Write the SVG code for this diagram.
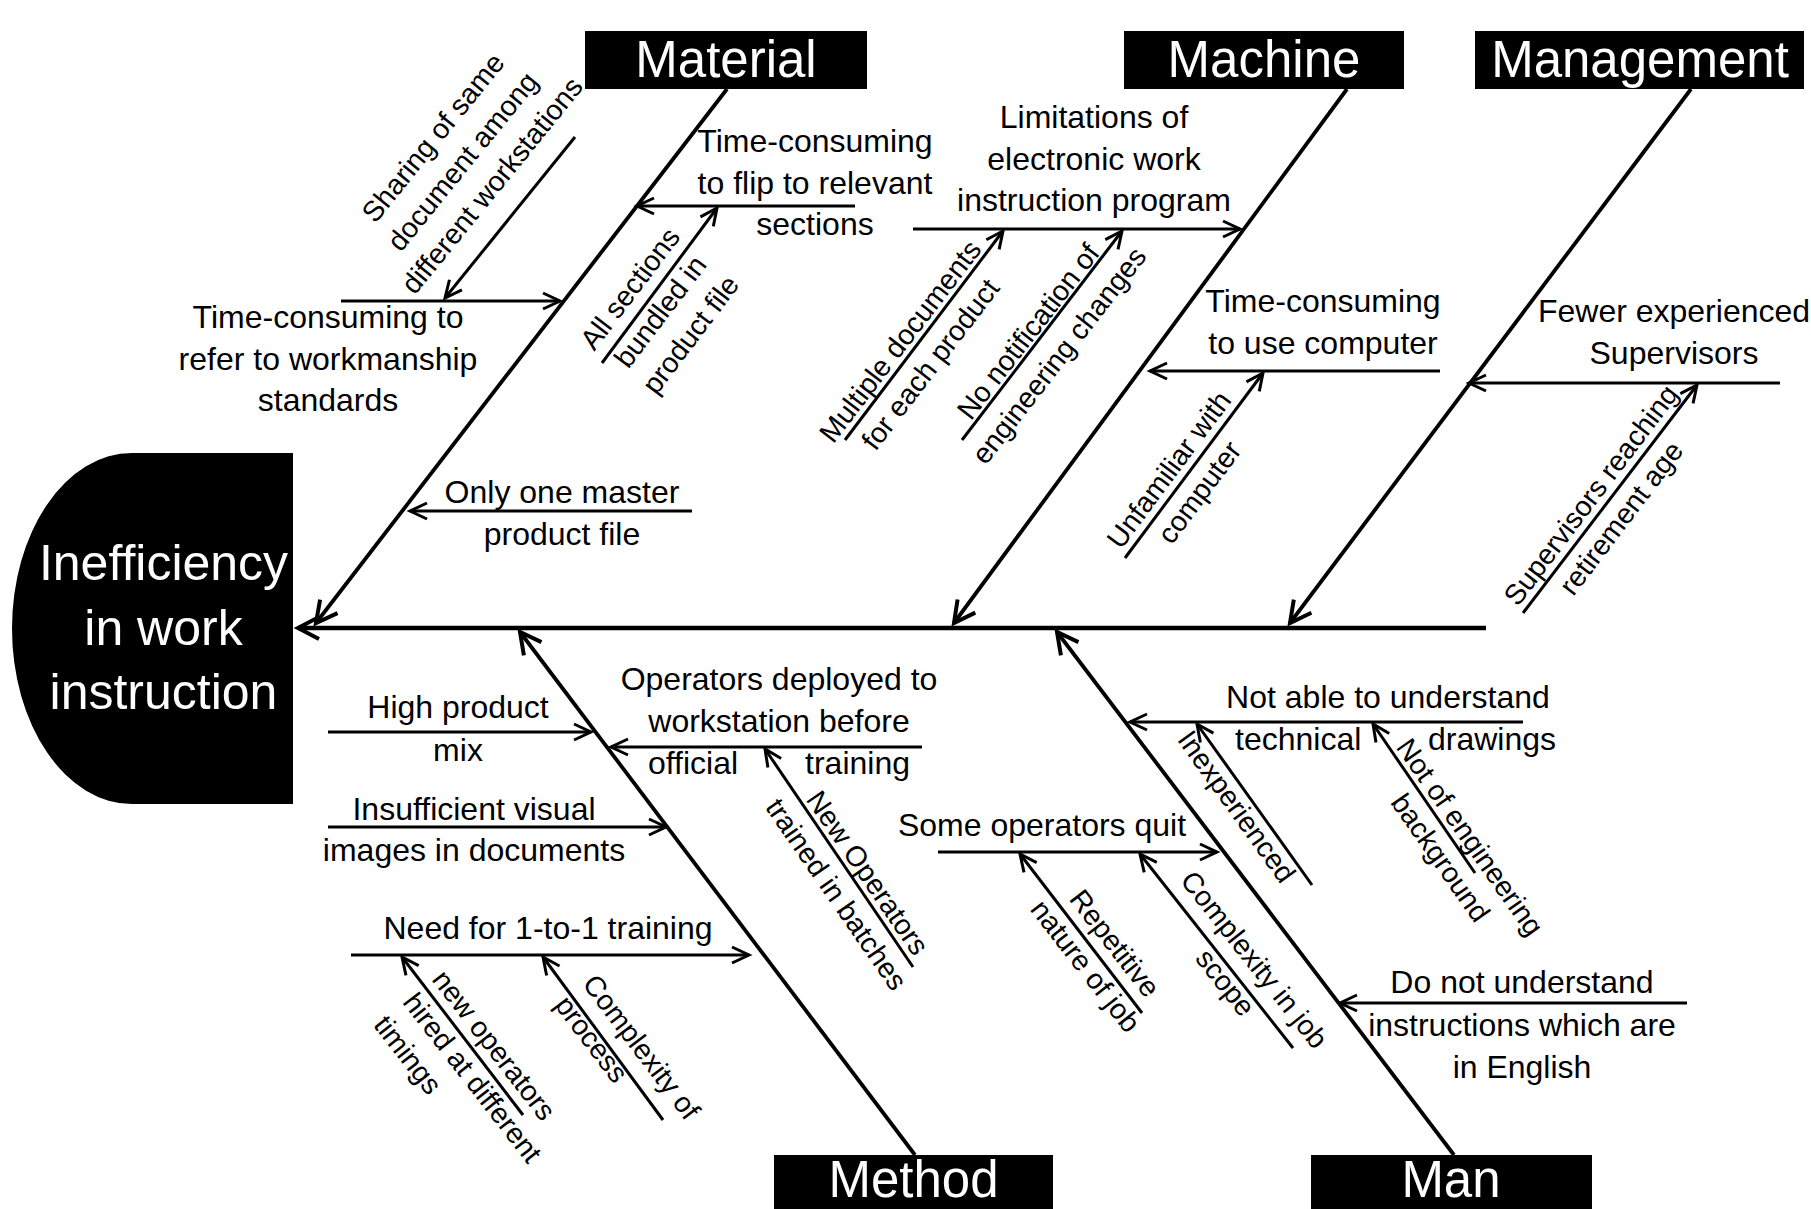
<svg xmlns="http://www.w3.org/2000/svg" width="1811" height="1209" viewBox="0 0 1811 1209">
<defs>
<style>
text{font-family:"Liberation Sans",Arial,sans-serif;fill:#000}
.h{font-size:32px;text-anchor:middle}
.hs{font-size:32px;text-anchor:start}
.he{font-size:32px;text-anchor:end}
.r{font-size:28.5px;text-anchor:middle}
.rs{font-size:28.5px;text-anchor:start}
.w{fill:#fff;text-anchor:middle;font-size:51px}
.hw{fill:#fff;text-anchor:middle;font-size:50px}
.l{stroke:#000;fill:none;stroke-width:3}
.b{stroke-width:3.8}
.s{stroke-width:4.5}
.box{fill:#000}
</style>
<marker id="a" markerUnits="userSpaceOnUse" markerWidth="24" markerHeight="24" refX="20" refY="12" orient="auto" overflow="visible"><path d="M3,4 L20,12 L3,20" fill="none" stroke="#000" stroke-width="3"/></marker>
<marker id="ab" markerUnits="userSpaceOnUse" markerWidth="28" markerHeight="28" refX="24" refY="14" orient="auto" overflow="visible"><path d="M3,3 L24,14 L3,25" fill="none" stroke="#000" stroke-width="4"/></marker>
</defs>
<rect width="1811" height="1209" fill="#fff"/>

<g id="head">
<path class="box" d="M293,453 L132,453 A120,175.5 0 0 0 132,804 L293,804 Z"/>
<text class="hw" x="163.5" y="580">Inefficiency</text>
<text class="hw" x="163.5" y="644.5">in work</text>
<text class="hw" x="163.5" y="709">instruction</text>
</g>

<g id="material"><rect class="box" x="585" y="31" width="282" height="58"/><text class="w" x="726" y="77">Material</text></g>
<g id="machine"><rect class="box" x="1124" y="31" width="280" height="58"/><text class="w" x="1264" y="77">Machine</text></g>
<g id="management"><rect class="box" x="1475" y="31" width="329" height="58"/><text class="w" x="1640" y="77">Management</text></g>
<g id="method"><rect class="box" x="774" y="1155" width="279" height="60"/><text class="w" x="913.5" y="1197">Method</text></g>
<g id="man"><rect class="box" x="1311" y="1155" width="281" height="60"/><text class="w" x="1451" y="1197">Man</text></g>

<g id="connectors" class="l">
<line class="s" x1="1486" y1="628" x2="298" y2="628" marker-end="url(#ab)"/>
<line class="b" x1="727" y1="89" x2="316" y2="623" marker-end="url(#ab)"/>
<line class="b" x1="1347" y1="89" x2="954" y2="623" marker-end="url(#ab)"/>
<line class="b" x1="1691" y1="89" x2="1290" y2="623" marker-end="url(#ab)"/>
<line class="b" x1="915" y1="1155" x2="520" y2="632" marker-end="url(#ab)"/>
<line class="b" x1="1454" y1="1155" x2="1057" y2="632" marker-end="url(#ab)"/>

<line x1="341" y1="301" x2="560" y2="301" marker-end="url(#a)"/>
<line x1="855" y1="206" x2="637" y2="206" marker-end="url(#a)"/>
<line x1="575" y1="137" x2="445" y2="298" marker-end="url(#a)"/>
<line x1="602" y1="363" x2="717" y2="208" marker-end="url(#a)"/>
<line x1="692" y1="511" x2="410" y2="511" marker-end="url(#a)"/>
<line x1="913" y1="229" x2="1240" y2="229" marker-end="url(#a)"/>
<line x1="845" y1="440" x2="1003" y2="231" marker-end="url(#a)"/>
<line x1="962" y1="440" x2="1122" y2="231" marker-end="url(#a)"/>
<line x1="1440" y1="371" x2="1150" y2="371" marker-end="url(#a)"/>
<line x1="1125" y1="558" x2="1263" y2="373" marker-end="url(#a)"/>
<line x1="1780" y1="383" x2="1469" y2="383" marker-end="url(#a)"/>
<line x1="1523" y1="613" x2="1697" y2="385" marker-end="url(#a)"/>
<line x1="328" y1="732" x2="591" y2="732" marker-end="url(#a)"/>
<line x1="922" y1="747" x2="611" y2="747" marker-end="url(#a)"/>
<line x1="913" y1="967" x2="765" y2="749" marker-end="url(#a)"/>
<line x1="328" y1="827" x2="666" y2="827" marker-end="url(#a)"/>
<line x1="351" y1="955" x2="749" y2="955" marker-end="url(#a)"/>
<line x1="523" y1="1115" x2="402" y2="957" marker-end="url(#a)"/>
<line x1="663" y1="1120" x2="543" y2="957" marker-end="url(#a)"/>
<line x1="1523" y1="722" x2="1130" y2="722" marker-end="url(#a)"/>
<line x1="1312" y1="885" x2="1197" y2="724" marker-end="url(#a)"/>
<line x1="1475" y1="873" x2="1373" y2="724" marker-end="url(#a)"/>
<line x1="938" y1="852" x2="1217" y2="852" marker-end="url(#a)"/>
<line x1="1142" y1="1013" x2="1020" y2="854" marker-end="url(#a)"/>
<line x1="1293" y1="1048" x2="1140" y2="854" marker-end="url(#a)"/>
<line x1="1687" y1="1003" x2="1340" y2="1003" marker-end="url(#a)"/>
</g>

<g id="cause-flip"><text class="h" x="815" y="152">Time-consuming</text><text class="h" x="815" y="194">to flip to relevant</text><text class="h" x="815" y="235">sections</text></g>
<g id="cause-refer"><text class="h" x="328" y="328">Time-consuming to</text><text class="h" x="328" y="370">refer to workmanship</text><text class="h" x="328" y="411">standards</text></g>
<g id="cause-master"><text class="h" x="562" y="503">Only one master</text><text class="h" x="562" y="545">product file</text></g>
<g id="cause-sharing" transform="translate(518.2,206.7) rotate(-50.9)"><text class="r" y="-100">Sharing of same</text><text class="r" y="-62">document among</text><text class="r" y="-24">different workstations</text></g>
<g id="cause-sections" transform="translate(648.1,302.3) rotate(-52.8)"><text class="r" y="-13">All sections</text><text class="r" y="25">bundled in</text><text class="r" y="63">product file</text></g>

<g id="cause-limitations"><text class="h" x="1094" y="128">Limitations of</text><text class="h" x="1094" y="170">electronic work</text><text class="h" x="1094" y="211">instruction program</text></g>
<g id="cause-multiple" transform="translate(913.1,351.1) rotate(-52.55)"><text class="r" y="-6.5">Multiple documents</text><text class="r" y="31.5">for each product</text></g>
<g id="cause-notification" transform="translate(1039.1,339.9) rotate(-52.26)"><text class="r" y="-4">No notification of</text><text class="r" y="35">engineering changes</text></g>
<g id="cause-computer"><text class="h" x="1323" y="312">Time-consuming</text><text class="h" x="1323" y="354">to use computer</text></g>
<g id="cause-unfamiliar" transform="translate(1183.1,480.2) rotate(-53.34)"><text class="r" y="-8">Unfamiliar with</text><text class="r" y="30">computer</text></g>

<g id="cause-fewer"><text class="h" x="1674" y="322">Fewer experienced</text><text class="h" x="1674" y="364">Supervisors</text></g>
<g id="cause-retirement" transform="translate(1605,505.8) rotate(-52.78)"><text class="r" y="-8">Supervisors reaching</text><text class="r" y="30">retirement age</text></g>

<g id="cause-mix"><text class="h" x="458" y="718">High product</text><text class="h" x="458" y="761">mix</text></g>
<g id="cause-deployed"><text class="h" x="779" y="690">Operators deployed to</text><text class="h" x="779" y="732">workstation before</text><text class="hs" x="648" y="774">official</text><text class="he" x="910" y="774">training</text></g>
<g id="cause-batches" transform="translate(854.7,881.7) rotate(55.4)"><text class="r" y="-6">New Operators</text><text class="r" y="32">trained in batches</text></g>
<g id="cause-visual"><text class="h" x="474" y="820">Insufficient visual</text><text class="h" x="474" y="861">images in documents</text></g>
<g id="cause-training"><text class="h" x="548" y="939">Need for 1-to-1 training</text></g>
<g id="cause-hired" transform="translate(401.7,958.3) rotate(52.19)"><text class="rs" x="35" y="-10">new operators</text><text class="rs" x="35" y="27">hired at different</text><text class="rs" x="35" y="64">timings</text></g>
<g id="cause-process" transform="translate(543.3,961.7) rotate(52.84)"><text class="rs" x="41" y="-17">Complexity of</text><text class="rs" x="41" y="18">process</text></g>

<g id="cause-drawings"><text class="h" x="1388" y="708">Not able to understand</text><text class="hs" x="1235" y="750">technical</text><text class="he" x="1556" y="750">drawings</text></g>
<g id="cause-inexperienced" transform="translate(1249,797.7) rotate(54.3)"><text class="r" y="25">Inexperienced</text></g>
<g id="cause-engineering" transform="translate(1456.3,846.7) rotate(54.96)"><text class="r" y="-7">Not of engineering</text><text class="r" y="29">background</text></g>
<g id="cause-quit"><text class="h" x="1042" y="836">Some operators quit</text></g>
<g id="cause-repetitive" transform="translate(1097.6,956.6) rotate(52.15)"><text class="r" y="-12">Repetitive</text><text class="r" y="25">nature of job</text></g>
<g id="cause-scope" transform="translate(1235,975) rotate(51.58)"><text class="r" y="-15">Complexity in job</text><text class="r" y="22">scope</text></g>
<g id="cause-english"><text class="h" x="1522" y="993">Do not understand</text><text class="h" x="1522" y="1035.5">instructions which are</text><text class="h" x="1522" y="1078">in English</text></g>
</svg>
